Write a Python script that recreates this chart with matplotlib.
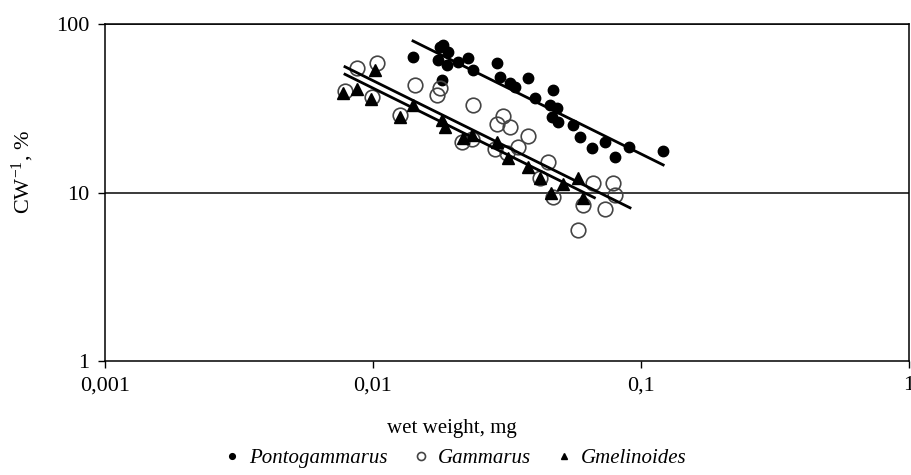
import numpy as np
import matplotlib
matplotlib.use("Agg")
from matplotlib import pyplot as plt

plt.rcParams['font.family'] = ['Liberation Serif', 'DejaVu Serif']
plt.rcParams['mathtext.fontset'] = 'custom'
plt.rcParams['mathtext.rm'] = 'Liberation Serif'
plt.rcParams['mathtext.it'] = 'Liberation Serif:italic'

## Data (wet weight, mg  vs  CW^-1, %)
ponto_x = [0.0141, 0.0178, 0.0182, 0.0191, 0.0175, 0.0189, 0.0208, 0.0226, 0.0236, 0.0290,
           0.0298, 0.0325, 0.0339, 0.0379, 0.0402, 0.0469, 0.0458, 0.0486, 0.0466, 0.0490,
           0.0558, 0.0592, 0.0657, 0.0734, 0.0800, 0.0902, 0.121, 0.0181]
ponto_y = [63.7, 73.0, 75.0, 68.2, 61.1, 57.1, 59.5, 62.8, 53.3, 58.7,
           48.5, 44.7, 42.3, 47.8, 36.4, 40.6, 33.1, 31.7, 28.1, 26.2,
           25.2, 21.4, 18.4, 19.9, 16.2, 18.6, 17.6, 46.5]

gamm_x = [0.00872, 0.01035, 0.00786, 0.00992, 0.01261, 0.01435, 0.01778, 0.01734, 0.02361,
          0.02902, 0.03056, 0.03245, 0.03788, 0.02148, 0.02341, 0.02852, 0.03475, 0.03162,
          0.04498, 0.04199, 0.04694, 0.06075, 0.06622, 0.07862, 0.07998, 0.07341, 0.05821]
gamm_y = [55.0, 58.7, 40.0, 36.9, 28.8, 43.5, 41.7, 37.9, 33.1,
          25.5, 28.4, 24.5, 21.6, 19.9, 20.8, 18.1, 18.6, 17.2,
          15.2, 12.2, 9.40, 8.41, 11.4, 11.4, 9.66, 7.98, 5.99]

gmel_x = [0.00773, 0.00872, 0.01017, 0.00983, 0.01261, 0.01410, 0.01809, 0.01857, 0.02167,
          0.02341, 0.02902, 0.03189, 0.03788, 0.04199, 0.04615, 0.05821, 0.06075, 0.05117]
gmel_y = [38.9, 41.1, 53.3, 35.9, 28.1, 33.1, 26.9, 24.5, 21.1,
          21.9, 19.9, 16.0, 14.2, 12.2, 9.93, 12.2, 9.28, 11.2]

# power trend lines y = a * x^b, with x range
ponto_fit = (2.76, -0.788, 0.0141, 0.121)
gamm_fit = (1.23, -0.787, 0.00786, 0.091)
gmel_fit = (1.11, -0.787, 0.00786, 0.067)

x_ticks = [0.001, 0.01, 0.1, 1]
x_ticklabels = ['0,001', '0,01', '0,1', '1']
y_ticks = [1, 10, 100]
y_ticklabels = ['1', '10', '100']


def trend(fit):
    a, b, x0, x1 = fit
    xs = np.array([x0, x1])
    return xs, a * xs ** b


fig = plt.figure(figsize=(9.11, 4.75), dpi=100)
ax = fig.add_axes([105 / 911, 1 - 361 / 475, 804 / 911, 337 / 475])
ax.set_xscale('log')
ax.set_yscale('log')
ax.set_xlim(0.001, 1)
ax.set_ylim(1, 100)

# gridlines at 10 and 100
for yv in [10, 100]:
    ax.axhline(yv, color='#3a3a3a', lw=1.4, zorder=1)

ax.plot(ponto_x, ponto_y, 'o', ms=7.5, mfc='black', mec='black', ls='none',
        label='Pontogammarus', zorder=3)
ax.plot(gamm_x, gamm_y, 'o', ms=10.5, mfc='none', mec='#444444', mew=1.2, ls='none',
        label='Gammarus', zorder=3)
ax.plot(gmel_x, gmel_y, '^', ms=8, mfc='black', mec='black', ls='none',
        label='Gmelinoides', zorder=4)

for f in (ponto_fit, gamm_fit, gmel_fit):
    xs, ys = trend(f)
    ax.plot(xs, ys, color='black', lw=2, zorder=5)

ax.set_xticks(x_ticks)
ax.set_xticklabels(x_ticklabels)
ax.set_yticks(y_ticks)
ax.set_yticklabels(y_ticklabels)
ax.minorticks_off()
ax.tick_params(axis='both', direction='out', length=5, width=1, labelsize=16, colors='black')
ax.tick_params(axis='x', pad=6)
ax.tick_params(axis='y', pad=6)
for s in ax.spines.values():
    s.set_linewidth(1.1)
    s.set_color('black')

ax.set_xlabel('wet weight, mg', fontsize=15)
ax.xaxis.set_label_coords(0.432, -0.199)
ax.xaxis.label.set_va('center')
ax.set_ylabel('CW$^{-1}$, %', fontsize=16)
ax.yaxis.set_label_coords(-0.102, 0.56)
ax.yaxis.label.set_va('center')

handles, labels = ax.get_legend_handles_labels()
leg = fig.legend(handles, labels, loc='center', bbox_to_anchor=(455 / 911, 1 - 458 / 475),
                 ncol=3, frameon=False, markerscale=0.55, handlelength=0.8, handletextpad=0.4,
                 columnspacing=1.2, prop={'style': 'italic', 'size': 15})

fig.savefig('out.png', dpi=100)
